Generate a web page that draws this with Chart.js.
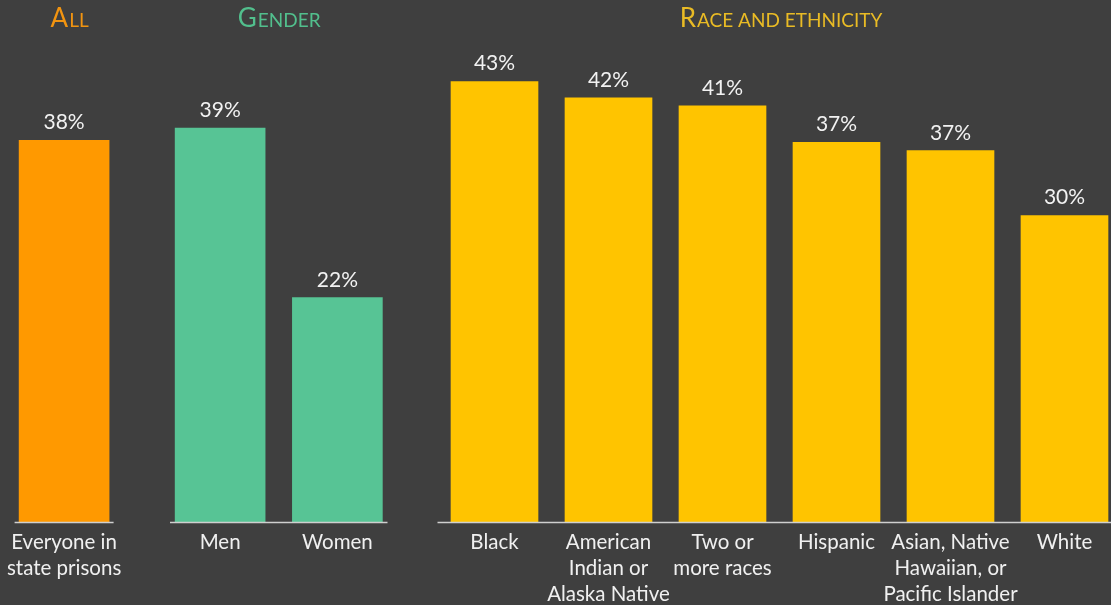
<!DOCTYPE html>
<html>
<head>
<meta charset="utf-8">
<script src="https://cdn.jsdelivr.net/npm/chart.js"></script>
<style>
  html, body { margin: 0; padding: 0; }
  body { width: 1111px; height: 605px; overflow: hidden; position: relative; background: #3f3f3f; }
  .panel { position: absolute; top: 0; height: 605px; }
</style>
</head>
<body>
<div class="panel" style="left:0;width:140px"><canvas id="allChart" width="140" height="605"></canvas></div>
<div class="panel" style="left:140px;width:290px"><canvas id="genderChart" width="290" height="605"></canvas></div>
<div class="panel" style="left:430px;width:700px"><canvas id="raceChart" width="700" height="605"></canvas></div>
<script>
// данные с картинки
const allLabels = [['Everyone in', 'state prisons']];
const allValues = [37.6];

const genderLabels = ['Men', 'Women'];
const genderValues = [38.8, 22.1];

const raceLabels = ['Black', ['American', 'Indian or', 'Alaska Native'], ['Two or', 'more races'], 'Hispanic',
    ['Asian, Native', 'Hawaiian, or', 'Pacific Islander'], 'White'];
const raceValues = [43.4, 41.8, 41.0, 37.4, 36.6, 30.2];

const FONT = 'Lato';

// подложка: базовая линия, подписи значений и заголовок группы капителью
const groupDeco = {
    id: 'groupDeco',
    afterDatasetsDraw(chart, args, opts) {
        const ctx = chart.ctx;
        const area = chart.chartArea;
        ctx.save();

        ctx.strokeStyle = '#cfcfcf';
        ctx.lineWidth = 1.5;
        ctx.beginPath();
        ctx.moveTo(area.left + opts.insetLeft, area.bottom + 0.5);
        ctx.lineTo(area.right - opts.insetRight, area.bottom + 0.5);
        ctx.stroke();

        const meta = chart.getDatasetMeta(0);
        const data = chart.data.datasets[0].data;
        ctx.fillStyle = '#f2f2f2';
        ctx.font = '21px ' + FONT;
        ctx.textAlign = 'center';
        ctx.textBaseline = 'alphabetic';
        meta.data.forEach((bar, i) => {
            ctx.fillText(Math.round(data[i]) + '%', bar.x, bar.y - 11);
        });

        // заголовок
        const first = opts.title[0].toUpperCase();
        const rest = opts.title.slice(1).toUpperCase();
        const bigFont = '26px ' + FONT;
        const smallFont = '19px ' + FONT;
        ctx.font = bigFont;
        const w1 = ctx.measureText(first).width;
        ctx.font = smallFont;
        const w2 = ctx.measureText(rest).width;
        let x = (area.left + area.right) / 2 + opts.titleShift - (w1 + w2) / 2;
        ctx.fillStyle = opts.titleColor;
        ctx.textAlign = 'left';
        ctx.font = bigFont;
        ctx.fillText(first, x, 27);
        ctx.font = smallFont;
        ctx.fillText(rest, x + w1 + 1, 27);
        ctx.restore();
    }
};

function makeChart(id, labels, values, color, barWidth, pad, deco) {
    const ctx = document.getElementById(id).getContext('2d');
    return new Chart(ctx, {
        type: 'bar',
        data: {
            labels: labels,
            datasets: [{
                data: values,
                backgroundColor: color,
                borderWidth: 0,
                barThickness: barWidth
            }]
        },
        options: {
            responsive: false,
            animation: false,
            layout: { padding: { left: pad.left, right: pad.right, top: 14.5, bottom: 0 } },
            plugins: {
                legend: { display: false },
                tooltip: { enabled: false },
                groupDeco: deco
            },
            scales: {
                x: {
                    grid: { display: false, drawTicks: false },
                    border: { display: false },
                    ticks: {
                        color: '#f0f0f0',
                        font: { family: FONT, size: 20.5, lineHeight: 1.25 },
                        padding: 8,
                        maxRotation: 0,
                        autoSkip: false
                    },
                    afterFit: scale => {
                        scale.height = 83;
                        // подписи могут вылезать за края, не сжимаем область графика
                        scale.paddingLeft = 0;
                        scale.paddingRight = 0;
                    }
                },
                y: {
                    display: false,
                    min: 0,
                    max: 50
                }
            }
        },
        plugins: [groupDeco]
    });
}

makeChart('allChart', allLabels, allValues, '#FF9900', 90,
    { left: 14.6, right: 26.4 },
    { title: 'All', titleColor: '#F29410', titleShift: 5, insetLeft: 0, insetRight: 0 });

makeChart('genderChart', genderLabels, genderValues, '#57C495', 90,
    { left: 21.5, right: 34 },
    { title: 'Gender', titleColor: '#52BF8D', titleShift: 0, insetLeft: 8.5, insetRight: 8.5 });

makeChart('raceChart', raceLabels, raceValues, '#FFC400', 87,
    { left: 7.5, right: 8.5 },
    { title: 'Race and ethnicity', titleColor: '#E9BB25', titleShift: 1, insetLeft: 0, insetRight: 0 });
</script>
</body>
</html>
